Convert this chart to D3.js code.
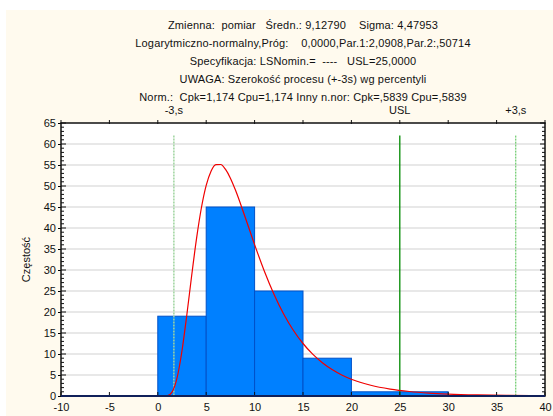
<!DOCTYPE html>
<html>
<head>
<meta charset="utf-8">
<script src="https://cdn.jsdelivr.net/npm/d3@7"></script>
<style>
body{margin:0;background:#fff;}
svg text{font-family:"Liberation Sans",Arial,sans-serif;}
</style>
</head>
<body>
<script>
var binStarts = [0, 5, 10, 15, 20, 25];
var binWidth = 5;
var counts = [19, 45, 25, 9, 1, 1];

// fitted log-normal curve
var curveX = [0, 0.5, 1, 1.5, 2, 2.5, 3, 3.5, 4, 4.5, 5, 5.5, 6, 6.5, 7, 7.5, 8, 9, 10, 11, 12, 13, 14, 15, 16, 17, 18, 19, 20, 22, 24, 26, 28, 30, 33, 36, 40];
var curveY = [0, 0, 0.08, 1.05, 4.41, 10.77, 19.34, 28.69, 37.46, 44.76, 50.13, 53.52, 55.1, 55.12, 53.94, 51.86, 49.15, 42.75, 36.05, 29.77, 24.23, 19.54, 15.66, 12.5, 9.96, 7.92, 6.3, 5.02, 4.0, 2.56, 1.65, 1.07, 0.7, 0.465, 0.256, 0.144, 0.069];

var refNames = ['-3,s', 'USL', '+3,s'];
var refValues = [1.66, 25, 36.98];
var refTop = 62;

var xTicks = [-10, -5, 0, 5, 10, 15, 20, 25, 30, 35, 40];
var yTicks = [0, 5, 10, 15, 20, 25, 30, 35, 40, 45, 50, 55, 60, 65];

var headerLines = [
	'Zmienna:  pomiar   \u015aredn.: 9,12790    Sigma: 4,47953',
	'Logarytmiczno-normalny,Próg:    0,0000,Par.1:2,0908,Par.2:,50714',
	'Specyfikacja: LSNomin.=  ----   USL=25,0000',
	'UWAGA: Szeroko\u015b\u0107 procesu (+-3s) wg percentyli',
	'Norm.:  Cpk=1,174 Cpu=1,174 Inny n.nor: Cpk=,5839 Cpu=,5839'
];

var W = 553, H = 416;
var pLeft = 61, pRight = 545, pTop = 123, pBottom = 396;

var svg = d3.select('body').append('svg')
	.attr('width', W)
	.attr('height', H);

svg.append('rect')
	.attr('x', 6).attr('y', 10)
	.attr('width', W - 6).attr('height', H - 10)
	.attr('fill', '#fffaee');

var x = d3.scaleLinear().domain([-10, 40]).range([pLeft, pRight]);
var y = d3.scaleLinear().domain([0, 65]).range([pBottom, pTop]);
var fmt = function(d){return String(d)};

svg.append('rect')
	.attr('x', pLeft).attr('y', pTop)
	.attr('width', pRight - pLeft).attr('height', pBottom - pTop)
	.attr('fill', '#fff');

// grid
svg.append('g')
	.selectAll('line')
	.data(yTicks.slice(1, -1))
	.enter()
	.append('line')
	.attr('x1', pLeft).attr('x2', pRight)
	.attr('y1', function(d){return y(d)})
	.attr('y2', function(d){return y(d)})
	.attr('stroke', '#e0e0e0')
	.attr('stroke-width', 1.5);

// bars
svg.append('g')
	.selectAll('rect')
	.data(counts)
	.enter()
	.append('rect')
	.attr('x', function(d, i){return x(binStarts[i])})
	.attr('width', function(d, i){return x(binStarts[i] + binWidth) - x(binStarts[i])})
	.attr('y', function(d){return y(d)})
	.attr('height', function(d){return y(0) - y(d)})
	.attr('fill', '#0080ff')
	.attr('stroke', '#0050c8')
	.attr('stroke-width', 1);

// reference lines
var refStyle = [
	{color: '#9fd49f', dash: '2,1', width: 1.5},
	{color: '#008a00', dash: null, width: 1.3},
	{color: '#4cbf4c', dash: '2,1', width: 1}
];
svg.append('g')
	.selectAll('line')
	.data(refValues)
	.enter()
	.append('line')
	.attr('x1', function(d){return x(d)})
	.attr('x2', function(d){return x(d)})
	.attr('y1', y(refTop))
	.attr('y2', y(0))
	.attr('stroke', function(d, i){return refStyle[i].color})
	.attr('stroke-width', function(d, i){return refStyle[i].width})
	.attr('stroke-dasharray', function(d, i){return refStyle[i].dash});

// fitted curve
var line = d3.line()
	.x(function(d){return x(d[0])})
	.y(function(d){return y(d[1])})
	.curve(d3.curveMonotoneX);

svg.append('path')
	.datum(curveX.map(function(v, i){return [v, curveY[i]]}))
	.attr('d', line)
	.attr('fill', 'none')
	.attr('stroke', '#f00000')
	.attr('stroke-width', 1.2);

// axes
var minorY = d3.range(0, 65.01, 1);

var bottomAxis = svg.append('g')
	.attr('transform', 'translate(0,' + pBottom + ')')
	.call(d3.axisBottom(x).tickValues(xTicks).tickSize(0).tickPadding(7).tickFormat(fmt));
bottomAxis.select('.domain').remove();

var leftAxis = svg.append('g')
	.attr('transform', 'translate(' + pLeft + ',0)')
	.call(d3.axisLeft(y).tickValues(yTicks).tickSize(3).tickPadding(2).tickFormat(fmt));
leftAxis.select('.domain').remove();

svg.selectAll('.tick text')
	.attr('font-size', 11)
	.attr('fill', '#111')
	.style('font-family', '"Liberation Sans",Arial,sans-serif');

var ticks = svg.append('g').attr('stroke', '#111').attr('stroke-width', 1);
ticks.selectAll('.mxb').data(xTicks).enter().append('line')
	.attr('x1', function(d){return x(d)}).attr('x2', function(d){return x(d)})
	.attr('y1', pBottom).attr('y2', pBottom - 4);
ticks.selectAll('.mxt').data(xTicks).enter().append('line')
	.attr('x1', function(d){return x(d)}).attr('x2', function(d){return x(d)})
	.attr('y1', pTop - 3).attr('y2', pTop + 1);
ticks.selectAll('.myl').data(minorY).enter().append('line')
	.attr('x1', pLeft).attr('x2', function(d){return d % 5 === 0 ? pLeft + 5 : pLeft + 3})
	.attr('y1', function(d){return y(d)}).attr('y2', function(d){return y(d)});
ticks.selectAll('.myr').data(minorY).enter().append('line')
	.attr('x1', pRight).attr('x2', function(d){return d % 5 === 0 ? pRight - 5 : pRight - 3})
	.attr('y1', function(d){return y(d)}).attr('y2', function(d){return y(d)});

// frame
svg.append('rect')
	.attr('x', pLeft).attr('y', pTop)
	.attr('width', pRight - pLeft).attr('height', pBottom - pTop)
	.attr('fill', 'none')
	.attr('stroke', '#111')
	.attr('stroke-width', 1.5);
svg.append('line')
	.attr('x1', pLeft).attr('x2', pRight)
	.attr('y1', pBottom).attr('y2', pBottom)
	.attr('stroke', '#10205a')
	.attr('stroke-width', 2);

// top labels of reference lines
svg.append('g')
	.selectAll('text')
	.data(refNames)
	.enter()
	.append('text')
	.attr('x', function(d, i){return x(refValues[i])})
	.attr('y', 114)
	.attr('text-anchor', 'middle')
	.attr('font-size', 11)
	.attr('fill', '#111')
	.text(function(d){return d});

// header
svg.append('g')
	.selectAll('text')
	.data(headerLines)
	.enter()
	.append('text')
	.attr('x', (pLeft + pRight) / 2)
	.attr('y', function(d, i){return 29 + i * 17.9})
	.attr('text-anchor', 'middle')
	.attr('font-size', 11)
	.attr('letter-spacing', 0.15)
	.attr('fill', '#111')
	.style('white-space', 'pre')
	.text(function(d){return d});

// y title
svg.append('text')
	.attr('transform', 'translate(30,' + ((pTop + pBottom) / 2) + ') rotate(-90)')
	.attr('text-anchor', 'middle')
	.attr('font-size', 11)
	.attr('fill', '#111')
	.text('Cz\u0119sto\u015b\u0107');
</script>
</body>
</html>
